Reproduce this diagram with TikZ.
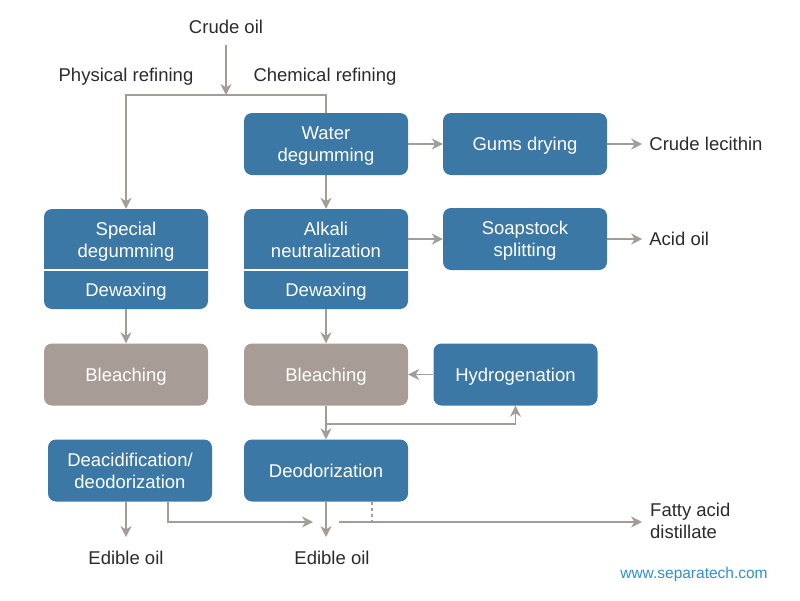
\documentclass[tikz,border=0pt]{standalone}
\usepackage{fontspec}
\setmainfont{Liberation Sans}
\usepackage{tikz}
\usetikzlibrary{positioning, arrows.meta}

\definecolor{procblue}{HTML}{3B78A5}
\definecolor{procgray}{HTML}{A79D96}
\definecolor{linegray}{HTML}{A39C97}
\definecolor{txtdark}{HTML}{2B2B2B}
\definecolor{webblue}{HTML}{2E8FD3}

\newcommand{\flowfont}{\fontsize{18.5}{22}\selectfont}

\tikzset{
  proc/.style={fill=procblue, rounded corners=8pt, minimum width=164pt,
    minimum height=62pt, inner sep=0pt, text depth=0pt, text=white,
    align=center, font=\flowfont},
  bleach/.style={proc, fill=procgray},
  part/.style={text=white, align=center, inner sep=0pt, text depth=0pt, font=\flowfont},
  lbl/.style={text=txtdark, align=left, inner sep=2pt, font=\flowfont},
  link/.style={draw=linegray, line width=1.6pt},
  flow/.style={link, -{Stealth[length=11pt, width=11pt, inset=3.5pt]}},
  divider/.style={draw=white, line width=1.5pt},
}

\begin{document}
\begin{tikzpicture}[x=1pt, y=-1pt]
\useasboundingbox (0,0) rectangle (800,600);

% top labels
\node[lbl] (crude) at (226,27) {Crude oil};
\node[lbl] (phys) at (126,77) {Physical refining};
\node[lbl] (chem) at (325,77) {Chemical refining};
\coordinate (split) at (226,95);
\coordinate (cut) at (0,270);

% chemical line
\node[proc] (water) at (326,144) {Water\\degumming};
\node[proc] (gums) at (525,144) {Gums drying};
\node[lbl, right=40pt of gums] (lecithin) {Crude lecithin};

\node[proc, minimum height=100pt] (alkali) at (326,259) {};
\node[part] (alkaliA) at (326,240) {Alkali\\neutralization};
\node[part] (alkaliB) at (326,290) {Dewaxing};
\draw[divider] (alkali.west |- cut) -- (alkali.east |- cut);
\node[proc] (soap) at (525,239) {Soapstock\\splitting};
\node[lbl, right=40pt of soap] (acid) {Acid oil};

\node[bleach] (bleachM) at (326,374.5) {Bleaching};
\node[proc] (hydro) at (515.5,374.5) {Hydrogenation};
\node[proc] (deodor) at (326,470.5) {Deodorization};
\node[lbl] (oilM) at (332,558) {Edible oil};
\node[lbl, anchor=west] (fatty) at (648,521) {Fatty acid\\distillate};

% physical line
\node[proc, minimum height=100pt] (special) at (126,259) {};
\node[part] (specialA) at (126,240) {Special\\degumming};
\node[part] (specialB) at (126,290) {Dewaxing};
\draw[divider] (special.west |- cut) -- (special.east |- cut);
\node[bleach] (bleachL) at (126,374.5) {Bleaching};
\node[proc] (deacid) at (130,470.5) {Deacidification/\\deodorization};
\node[lbl] (oilL) at (126,558) {Edible oil};

\node[text=webblue, inner sep=0pt, font=\fontsize{15.5}{18}\selectfont]
  (web) at (694,574) {www.separatech.com};

% connectors
\draw[flow, shorten <=9pt] (crude) -- (split);
\draw[flow] (split) -| (special.north);
\draw[link] (split) -| (water.north);
\draw[flow] (water) -- (gums);
\draw[flow, shorten >=5pt] (gums) -- (lecithin);
\draw[flow] (water) -- (alkali);
\draw[flow] (alkali.east |- soap) -- (soap.west);
\draw[flow, shorten >=5pt] (soap) -- (acid);
\draw[flow] (alkali) -- (bleachM);
\draw[flow] (special) -- (bleachL);
\draw[flow] (hydro) -- (bleachM);
\draw[flow] (bleachM) -- (deodor);
\coordinate (fork) at (326,424);
\draw[flow] (fork) -| (hydro.south);

\coordinate (merge) at (313,522);
\coordinate (tapR) at (339,522);
\draw[flow] (deacid.south -| oilL) -- ([yshift=12pt]oilL.north);
\draw[flow] ([xshift=38pt]deacid.south) |- (merge);
\draw[flow] (deodor.south) -- ([yshift=12pt]deodor.south |- oilM.north);
\draw[flow, shorten >=6pt] (tapR) -- (fatty.west |- tapR);
\draw[link, dashed] ([xshift=46pt]deodor.south) -- ([xshift=46pt]deodor.south |- tapR);

\end{tikzpicture}
\end{document}
